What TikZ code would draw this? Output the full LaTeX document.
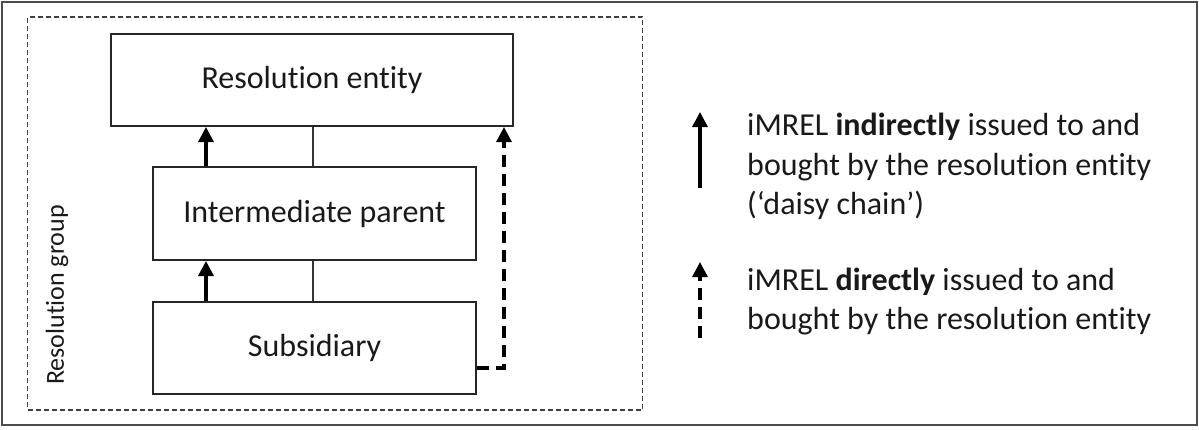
\documentclass[tikz,border=0pt]{standalone}
\usepackage{fontspec}
\setmainfont{Carlito}[Ligatures=NoCommon]
\usetikzlibrary{arrows.meta}
\begin{document}
\begin{tikzpicture}[x=1pt,y=-1pt,
  box/.style={draw=black!85, line width=2pt, rectangle, inner sep=0pt, font=\fontsize{32}{40}\selectfont, text=black!90},
  thinline/.style={draw=black!80, line width=2pt},
  arr/.style={draw=black, line width=3.2pt, -{Triangle[length=15pt,width=15pt]}},
  darr/.style={arr, dash pattern=on 12pt off 7pt},
  legtext/.style={anchor=base west, inner sep=0pt, font=\fontsize{32}{40}\selectfont, text=black!90}
]
\useasboundingbox (0,0) rectangle (1199,429);
% outer frame
\draw[draw=black!70, line width=2.2pt] (2,2) rectangle (1197,425);
% resolution group
\node[draw=black!75, line width=1.5pt, dash pattern=on 5pt off 3pt, rectangle, inner sep=0pt,
      minimum width=615pt, minimum height=393pt] (grp) at (335,213.5) {};
\node[rotate=90, inner sep=0pt, font=\fontsize{26}{30}\selectfont, text=black!90] (grplabel) at (57,295) {Resolution group};
% boxes
\node[box, minimum width=402pt, minimum height=92pt] (ent) at (312,80) {Resolution entity};
\node[box, minimum width=323pt, minimum height=93pt] (int) at (314.5,213.5) {Intermediate parent};
\node[box, minimum width=323pt, minimum height=92pt] (sub) at (314.5,348) {Subsidiary};
% helper coordinates
\coordinate (ax) at (206,0);
\coordinate (lx) at (312.5,0);
\coordinate (dx) at (504,368);
% thin links
\draw[thinline] (lx |- ent.south) -- (lx |- int.north);
\draw[thinline] (lx |- int.south) -- (lx |- sub.north);
% daisy chain arrows
\draw[arr] (ax |- int.north) -- (ax |- ent.south);
\draw[arr] (ax |- sub.north) -- (ax |- int.south);
% direct arrow
\draw[darr] (sub.east |- dx) -| (dx |- ent.south);
% legend
\coordinate (s1) at (700,188);
\coordinate (e1) at (700,112);
\coordinate (s2) at (700,338);
\coordinate (e2) at (700,262);
\draw[arr] (s1) -- (e1);
\draw[darr] (s2) -- (e2);
\node[legtext] (l1a) at (747,135) {iMREL \textbf{indirectly} issued to and};
\node[legtext] (l1b) at (747,175) {bought by the resolution entity};
\node[legtext] (l1c) at (747,214) {(‘daisy chain’)};
\node[legtext] (l2a) at (747,290) {iMREL \textbf{directly} issued to and};
\node[legtext] (l2b) at (747,329) {bought by the resolution entity};
\end{tikzpicture}
\end{document}
